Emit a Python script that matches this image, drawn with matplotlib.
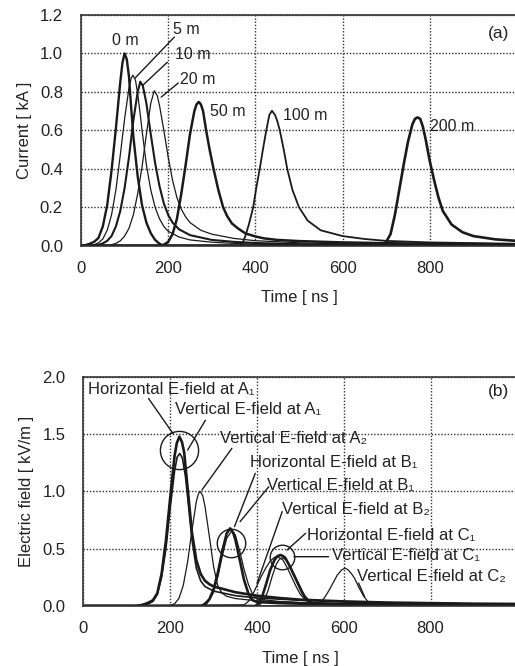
import matplotlib
matplotlib.use("Agg")
import matplotlib.pyplot as plt

plt.rcParams['font.family'] = ['Liberation Sans', 'DejaVu Sans']

# ---------------- (a) current waveforms ----------------
t_0m = [0, 10, 20, 30, 40, 50, 60, 70, 80, 90, 95, 100, 105, 110, 115, 120, 130, 140, 150, 160, 170, 180, 190, 1000]
i_0m = [0, 0.003, 0.01, 0.02, 0.04, 0.1, 0.21, 0.39, 0.61, 0.85, 0.95, 1.0, 0.97, 0.88, 0.72, 0.57, 0.36, 0.21, 0.12, 0.065, 0.03, 0.01, 0.0, 0.0]

t_5m = [0, 20, 30, 40, 50, 60, 70, 80, 90, 100, 110, 115, 119, 125, 130, 135, 140, 150, 160, 170, 180, 190, 200, 225, 250, 300, 350, 400, 500, 700, 1000]
i_5m = [0, 0, 0.005, 0.015, 0.035, 0.08, 0.16, 0.29, 0.47, 0.66, 0.82, 0.87, 0.887, 0.86, 0.79, 0.7, 0.6, 0.42, 0.29, 0.2, 0.14, 0.1, 0.075, 0.045, 0.03, 0.018, 0.012, 0.008, 0.005, 0.002, 0]

t_10m = [0, 30, 40, 50, 60, 70, 80, 90, 100, 110, 120, 130, 136, 142, 150, 160, 170, 180, 190, 200, 210, 225, 250, 300, 350, 400, 500, 600, 800, 1000]
i_10m = [0, 0, 0.005, 0.012, 0.025, 0.05, 0.1, 0.18, 0.3, 0.46, 0.65, 0.8, 0.853, 0.83, 0.74, 0.58, 0.43, 0.31, 0.22, 0.16, 0.12, 0.085, 0.055, 0.03, 0.02, 0.014, 0.008, 0.005, 0.002, 0]

t_20m = [0, 60, 70, 80, 90, 100, 110, 120, 130, 140, 150, 160, 168, 175, 180, 190, 200, 210, 220, 230, 240, 250, 275, 300, 350, 400, 500, 600, 800, 1000]
i_20m = [0, 0, 0.005, 0.012, 0.025, 0.05, 0.09, 0.16, 0.27, 0.41, 0.58, 0.74, 0.806, 0.78, 0.73, 0.6, 0.46, 0.34, 0.25, 0.19, 0.15, 0.12, 0.08, 0.06, 0.038, 0.026, 0.015, 0.01, 0.005, 0.003]

t_50m = [0, 185, 190, 200, 210, 220, 230, 240, 250, 260, 265, 270, 275, 280, 287, 295, 304, 315, 326, 335, 346, 360, 377, 400, 420, 450, 500, 600, 700, 800, 1000]
i_50m = [0, 0, 0.005, 0.02, 0.06, 0.14, 0.27, 0.42, 0.58, 0.70, 0.735, 0.748, 0.735, 0.7, 0.6, 0.5, 0.4, 0.29, 0.2, 0.155, 0.116, 0.09, 0.064, 0.048, 0.038, 0.03, 0.024, 0.017, 0.013, 0.01, 0.007]

t_100m = [0, 365, 370, 377, 385, 395, 402, 410, 418, 425, 432, 438, 445, 450, 456, 465, 473, 485, 500, 520, 550, 600, 650, 700, 800, 1000]
i_100m = [0, 0, 0.01, 0.05, 0.11, 0.2, 0.3, 0.4, 0.51, 0.6, 0.68, 0.702, 0.68, 0.65, 0.6, 0.5, 0.4, 0.29, 0.2, 0.13, 0.08, 0.05, 0.035, 0.025, 0.017, 0.01]

t_200m = [0, 690, 700, 710, 720, 730, 740, 750, 760, 766, 772, 778, 784, 790, 800, 810, 820, 830, 850, 875, 900, 950, 1000]
i_200m = [0, 0, 0.02, 0.06, 0.16, 0.29, 0.42, 0.54, 0.63, 0.66, 0.667, 0.66, 0.62, 0.56, 0.44, 0.34, 0.25, 0.18, 0.11, 0.07, 0.05, 0.033, 0.025]

current_series = [
    ("0 m", t_0m, i_0m, 1.7),
    ("5 m", t_5m, i_5m, 0.9),
    ("10 m", t_10m, i_10m, 1.5),
    ("20 m", t_20m, i_20m, 0.9),
    ("50 m", t_50m, i_50m, 1.8),
    ("100 m", t_100m, i_100m, 1.3),
    ("200 m", t_200m, i_200m, 1.9),
]

# ---------------- (b) electric fields ----------------
t_hA1 = [0, 120, 130, 140, 150, 160, 170, 180, 190, 200, 210, 215, 221, 227, 232, 240, 250, 260, 270, 280, 290, 300, 320, 350, 400, 450, 500, 600, 700, 800, 900, 1000]
e_hA1 = [0, 0, 0.005, 0.015, 0.03, 0.05, 0.11, 0.28, 0.57, 0.95, 1.31, 1.42, 1.477, 1.43, 1.34, 1.03, 0.64, 0.4, 0.28, 0.22, 0.19, 0.17, 0.15, 0.12, 0.09, 0.07, 0.055, 0.04, 0.03, 0.025, 0.02, 0.018]

t_vA1 = [0, 135, 150, 160, 170, 180, 190, 200, 210, 216, 222, 228, 235, 240, 250, 260, 270, 280, 290, 300, 350, 400, 500, 600, 800, 1000]
e_vA1 = [0, 0, 0.02, 0.04, 0.1, 0.25, 0.5, 0.86, 1.18, 1.3, 1.33, 1.29, 1.13, 0.95, 0.58, 0.33, 0.22, 0.17, 0.15, 0.13, 0.09, 0.07, 0.05, 0.035, 0.022, 0.015]

t_vA2 = [0, 190, 200, 210, 220, 230, 240, 250, 260, 265, 269, 275, 280, 290, 300, 310, 320, 330, 350, 400, 500, 600, 800, 1000]
e_vA2 = [0, 0, 0.005, 0.02, 0.066, 0.18, 0.385, 0.66, 0.91, 0.98, 1.0, 0.96, 0.87, 0.61, 0.34, 0.17, 0.11, 0.085, 0.065, 0.045, 0.03, 0.02, 0.012, 0.008]

t_hB1 = [0, 272, 280, 290, 300, 310, 320, 330, 338, 345, 350, 360, 370, 380, 390, 400, 450, 500, 600, 800, 1000]
e_hB1 = [0, 0, 0.019, 0.058, 0.146, 0.295, 0.48, 0.632, 0.677, 0.64, 0.58, 0.405, 0.228, 0.11, 0.05, 0.035, 0.025, 0.02, 0.015, 0.01, 0.008]

t_vB1 = [0, 280, 290, 300, 310, 320, 330, 342, 350, 360, 370, 380, 390, 400, 450, 500, 600, 800, 1000]
e_vB1 = [0, 0, 0.05, 0.12, 0.26, 0.44, 0.59, 0.655, 0.62, 0.48, 0.32, 0.19, 0.1, 0.06, 0.04, 0.03, 0.02, 0.012, 0.01]

t_vB2 = [0, 370, 380, 390, 400, 410, 420, 430, 440, 448, 460, 470, 480, 490, 500, 510, 525, 600, 1000]
e_vB2 = [0, 0.01, 0.04, 0.1, 0.18, 0.26, 0.33, 0.39, 0.425, 0.43, 0.4, 0.33, 0.25, 0.17, 0.1, 0.06, 0.03, 0.015, 0.006]

t_hC1 = [0, 395, 400, 410, 420, 430, 440, 447, 454, 460, 465, 475, 485, 495, 505, 515, 525, 600, 800, 1000]
e_hC1 = [0, 0, 0.01, 0.06, 0.18, 0.31, 0.4, 0.435, 0.445, 0.435, 0.42, 0.35, 0.27, 0.19, 0.11, 0.05, 0.02, 0.012, 0.008, 0.006]

t_vC1 = [0, 400, 405, 415, 425, 435, 445, 452, 458, 464, 470, 480, 490, 500, 510, 520, 530, 600, 1000]
e_vC1 = [0, 0, 0.01, 0.04, 0.13, 0.26, 0.37, 0.41, 0.42, 0.41, 0.39, 0.32, 0.24, 0.16, 0.09, 0.05, 0.025, 0.012, 0.006]

t_vC2 = [0, 535, 545, 555, 565, 575, 585, 595, 603, 610, 618, 625, 635, 645, 655, 665, 700, 1000]
e_vC2 = [0, 0, 0.03, 0.07, 0.13, 0.2, 0.27, 0.315, 0.33, 0.315, 0.28, 0.24, 0.16, 0.09, 0.04, 0.015, 0.008, 0.004]

field_series = [
    ("Horizontal E-field at A\u2081", t_hA1, e_hA1, 1.9),
    ("Vertical E-field at A\u2081", t_vA1, e_vA1, 1.2),
    ("Vertical E-field at A\u2082", t_vA2, e_vA2, 0.9),
    ("Horizontal E-field at B\u2081", t_hB1, e_hB1, 1.9),
    ("Vertical E-field at B\u2081", t_vB1, e_vB1, 0.9),
    ("Vertical E-field at B\u2082", t_vB2, e_vB2, 0.9),
    ("Horizontal E-field at C\u2081", t_hC1, e_hC1, 1.9),
    ("Vertical E-field at C\u2081", t_vC1, e_vC1, 0.9),
    ("Vertical E-field at C\u2082", t_vC2, e_vC2, 0.9),
]

x_ticks = [0, 200, 400, 600, 800]
ya_ticks = [0.0, 0.2, 0.4, 0.6, 0.8, 1.0, 1.2]
yb_ticks = [0.0, 0.5, 1.0, 1.5, 2.0]

INK = '#1a1a1a'
TXT = '#222222'

fig = plt.figure(figsize=(5.15, 6.66), dpi=100)
ax1 = fig.add_axes([0.1573, 0.6311, 0.8465, 0.3464])
ax2 = fig.add_axes([0.1621, 0.0901, 0.8425, 0.3443])


def style(ax, yticks, ylabel):
    ax.set_xlim(0, 1000)
    ax.set_ylim(yticks[0], yticks[-1])
    ax.set_xticks(x_ticks)
    ax.set_yticks(yticks)
    ax.set_yticklabels(["%.1f" % v for v in yticks])
    ax.tick_params(length=0, labelsize=12, colors=TXT)
    ax.tick_params(axis='x', pad=11)
    ax.tick_params(axis='y', pad=13)
    ax.grid(True, linestyle=(0, (1.0, 1.3)), color='#333333', linewidth=1.0)
    ax.set_axisbelow(True)
    for s in ax.spines.values():
        s.set_color('#333333')
        s.set_linewidth(1.2)
    ax.set_xlabel("Time [ ns ]", fontsize=12, color=TXT)
    ax.set_ylabel(ylabel, fontsize=12, color=TXT)


style(ax1, ya_ticks, "Current [ kA ]")
style(ax2, yb_ticks, "Electric field [ kV/m ]")
ax1.xaxis.set_label_coords(0.5, -0.19)
ax2.xaxis.set_label_coords(0.5, -0.195)
ax1.yaxis.set_label_coords(-0.112, 0.5)
ax2.yaxis.set_label_coords(-0.113, 0.5)

for name, t, v, lw in current_series:
    ax1.plot(t, v, color=INK, lw=lw, solid_joinstyle='round')

for name, t, v, lw in field_series:
    ax2.plot(t, v, color=INK, lw=lw, solid_joinstyle='round')

# ---- annotations (a) ----
fs_a = 11.5
ax1.text(101, 1.065, "0 m", fontsize=fs_a, ha='center', va='center', color=TXT)
ax1.text(211, 1.125, "5 m", fontsize=fs_a, ha='left', va='center', color=TXT)
ax1.text(216, 0.995, "10 m", fontsize=fs_a, ha='left', va='center', color=TXT)
ax1.text(228, 0.865, "20 m", fontsize=fs_a, ha='left', va='center', color=TXT)
ax1.text(297, 0.70, "50 m", fontsize=fs_a, ha='left', va='center', color=TXT)
ax1.text(464, 0.675, "100 m", fontsize=fs_a, ha='left', va='center', color=TXT)
ax1.text(800, 0.622, "200 m", fontsize=fs_a, ha='left', va='center', color=TXT)
ax1.text(982, 1.105, "(a)", fontsize=12.5, ha='right', va='center', color=TXT)
for (x0, y0), (x1, y1) in [((214, 1.085), (124, 0.872)),
                           ((198, 0.954), (142, 0.835)),
                           ((223, 0.846), (184, 0.773))]:
    ax1.annotate("", xy=(x1, y1), xytext=(x0, y0),
                 arrowprops=dict(arrowstyle='-', color=INK, lw=1.0, shrinkA=0, shrinkB=0))

# ---- annotations (b) ----
fs_b = 12
labels_b = [
    ("Horizontal E-field at A\u2081", 11, 1.884, (150, 1.81), (207, 1.50)),
    ("Vertical E-field at A\u2081", 211, 1.71, (281, 1.62), (240, 1.36)),
    ("Vertical E-field at A\u2082", 315, 1.465, (342, 1.375), (273, 1.012)),
    ("Horizontal E-field at B\u2081", 384, 1.25, (396, 1.157), (348, 0.692)),
    ("Vertical E-field at B\u2081", 423, 1.055, (427, 1.04), (361, 0.736)),
    ("Vertical E-field at B\u2082", 457, 0.843, (458, 0.823), (400, 0.198)),
    ("Horizontal E-field at C\u2081", 515, 0.615, (512, 0.634), (469, 0.488)),
    ("Vertical E-field at C\u2081", 573, 0.439, (565, 0.43), (485, 0.43)),
    ("Vertical E-field at C\u2082", 631, 0.256, (634, 0.2), (648, 0.08)),
]
for s, tx, ty, p0, p1 in labels_b:
    ax2.text(tx, ty, s, fontsize=fs_b, ha='left', va='center', color=TXT)
    ax2.annotate("", xy=p1, xytext=p0,
                 arrowprops=dict(arrowstyle='-', color=INK, lw=1.0, shrinkA=0, shrinkB=0))

for (cx, cy), d in [((221, 1.36), 27.5), ((340, 0.547), 20.5), ((457, 0.43), 17.7)]:
    ax2.plot([cx], [cy], marker='o', markersize=d, mfc='none', mec=INK, mew=1.0)

ax2.text(980, 1.87, "(b)", fontsize=12.5, ha='right', va='center', color=TXT)

fig.savefig("out.png", dpi=100)
